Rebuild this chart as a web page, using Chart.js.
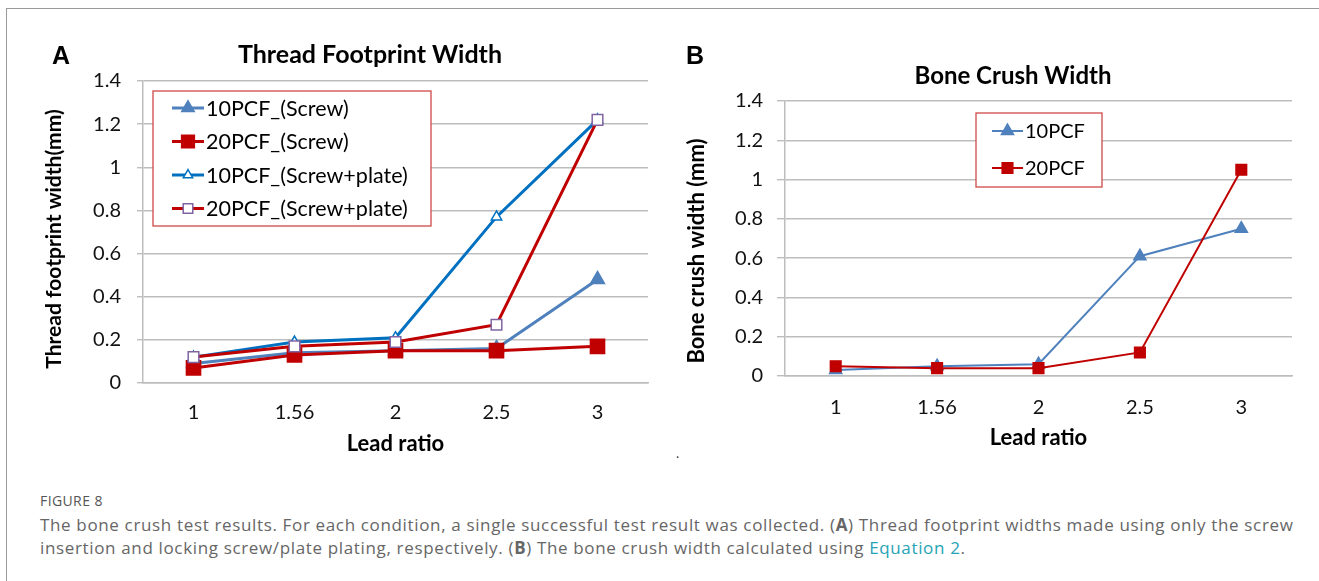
<!DOCTYPE html>
<html>
<head>
<meta charset="utf-8">
<title>Figure 8 - bone crush test</title>
<script src="https://cdn.jsdelivr.net/npm/chart.js"></script>
<style>
  body { margin: 0; background: #fff; width: 1319px; height: 581px; overflow: hidden; position: relative; font-family: Lato, sans-serif; }
  #card { position: absolute; left: 6px; top: 8px; width: 1400px; height: 700px; border-left: 1.5px solid #9a9a9a; border-top: 1.5px solid #9a9a9a; }
  canvas { position: absolute; top: 0; }
  #chartA { left: 0; }
  #chartB { left: 670px; }
  .txt { position: absolute; white-space: nowrap; color: #000; font-weight: bold; }
  #panelA { left: 52px; top: 41px; font: bold 25px Arial, sans-serif; }
  #panelB { left: 686px; top: 41px; font: bold 25px Arial, sans-serif; }
  #titleA { left: 370px; top: 38px; font-size: 25px; transform: translateX(-50%); }
  #titleB { left: 1013px; top: 60px; font-size: 24px; transform: translateX(-50%); }
  #dot { left: 676px; top: 444px; font: 14px Lato, sans-serif; color: #444; }
  #fig { position: absolute; left: 40px; top: 491px; font: 14px "Open Sans", sans-serif; color: #555; letter-spacing: 0.4px; }
  #caption { position: absolute; left: 40px; top: 513px; font: 17px/23px "Open Sans", sans-serif; color: #666; white-space: nowrap; letter-spacing: 0.65px; }
  #caption a { color: #26a3b6; text-decoration: none; }
</style>
</head>
<body>
<div id="card"></div>
<canvas id="chartA" width="670" height="470"></canvas>
<canvas id="chartB" width="640" height="470"></canvas>
<div class="txt" id="panelA">A</div>
<div class="txt" id="panelB">B</div>
<div class="txt" id="titleA">Thread Footprint Width</div>
<div class="txt" id="titleB">Bone Crush Width</div>
<div class="txt" id="dot">.</div>
<div id="fig">FIGURE 8</div>
<div id="caption">The bone crush test results. For each condition, a single successful test result was collected. (<b>A</b>) Thread footprint widths made using only the screw<br>insertion and locking screw/plate plating, respectively. (<b>B</b>) The bone crush width calculated using <a href="#">Equation 2</a>.</div>
<script>
// lead ratios on the x axis
const leadRatios = ['1', '1.56', '2', '2.5', '3'];

// panel A: thread footprint width (mm)
const screw10 = [0.09, 0.14, 0.15, 0.16, 0.48];
const screw20 = [0.07, 0.13, 0.15, 0.15, 0.17];
const plate10 = [0.12, 0.19, 0.21, 0.77, 1.22];
const plate20 = [0.12, 0.17, 0.19, 0.27, 1.22];

// panel B: bone crush width (mm)
const crush10 = [0.03, 0.05, 0.06, 0.61, 0.75];
const crush20 = [0.05, 0.04, 0.04, 0.12, 1.05];

const yMin = 0, yMax = 1.4, yStep = 0.2;

Chart.defaults.font.family = 'Lato, sans-serif';
Chart.defaults.color = '#000';

// legend box drawn inside the plot, like the Excel one
const boxLegend = {
  id: 'boxLegend',
  afterDraw(chart, args, o) {
    const ctx = chart.ctx;
    ctx.save();
    ctx.fillStyle = '#fff';
    ctx.fillRect(o.x, o.y, o.w, o.h);
    ctx.strokeStyle = o.border;
    ctx.lineWidth = 1.3;
    ctx.strokeRect(o.x, o.y, o.w, o.h);
    ctx.font = o.fontSize + 'px Lato, sans-serif';
    ctx.textBaseline = 'middle';
    chart.data.datasets.forEach((ds, i) => {
      const y = o.y + o.first + i * o.gap;
      ctx.strokeStyle = ds.borderColor;
      ctx.lineWidth = ds.borderWidth;
      ctx.beginPath();
      ctx.moveTo(o.lineX0, y);
      ctx.lineTo(o.lineX1, y);
      ctx.stroke();
      ctx.fillStyle = ds.pointBackgroundColor;
      ctx.strokeStyle = ds.pointBorderColor;
      ctx.lineWidth = ds.pointBorderWidth;
      Chart.helpers.drawPoint(ctx, {
        pointStyle: ds.pointStyle, rotation: 0,
        radius: ds.pointRadius * o.markScale, borderWidth: ds.pointBorderWidth
      }, (o.lineX0 + o.lineX1) / 2, y);
      ctx.fillStyle = '#000';
      ctx.fillText(ds.label, o.textX, y + 1);
    });
    ctx.restore();
  }
};

// rotated y axis title, placed where Excel put it
const sideTitle = {
  id: 'sideTitle',
  afterDraw(chart, args, o) {
    const ctx = chart.ctx;
    ctx.save();
    ctx.translate(o.x, o.y);
    ctx.rotate(-Math.PI / 2);
    ctx.font = o.weight + ' ' + o.size + 'px Lato, sans-serif';
    ctx.textAlign = 'center';
    ctx.textBaseline = 'middle';
    ctx.fillStyle = '#000';
    ctx.fillText(o.text, 0, 0);
    ctx.restore();
  }
};

function makeOptions(cfg) {
  return {
    responsive: false,
    animation: false,
    layout: { padding: { top: cfg.top, right: cfg.right, left: 0, bottom: 0 } },
    plugins: {
      legend: { display: false },
      tooltip: { enabled: false },
      boxLegend: cfg.legend,
      sideTitle: cfg.side
    },
    scales: {
      x: {
        type: 'category',
        offset: true,
        grid: { display: false, drawTicks: false },
        border: { display: true, color: '#bdbdbd', width: 1.5 },
        ticks: { padding: cfg.xTickPad, font: { size: 20 }, color: '#111', maxRotation: 0 },
        title: { display: true, text: 'Lead ratio', font: { size: 22, weight: 'bold' }, padding: { bottom: cfg.xTitlePad } },
        afterFit: s => { s.height = cfg.xHeight; }
      },
      y: {
        min: yMin, max: yMax,
        ticks: { stepSize: yStep, padding: cfg.yTickPad, font: { size: 20 }, color: '#111',
                 callback: v => String(+v.toFixed(1)) },
        grid: { color: '#bdbdbd', lineWidth: 1.4, tickLength: cfg.tickLen },
        border: { display: true, color: '#bdbdbd', width: 1.5 },
        afterFit: s => { s.width = cfg.yWidth; }
      }
    }
  };
}

function series(label, data, line, mark, fill, style, r, lw, order) {
  return {
    label, data, order,
    borderColor: line, borderWidth: lw,
    pointStyle: style, pointRadius: r, pointHoverRadius: r,
    pointBackgroundColor: fill, pointBorderColor: mark, pointBorderWidth: 1.5,
    tension: 0, fill: false
  };
}

new Chart(document.getElementById('chartA'), {
  type: 'line',
  data: {
    labels: leadRatios,
    datasets: [
      series('10PCF_(Screw)', screw10, '#4f81bd', '#4f81bd', '#4f81bd', 'triangle', 8, 3, 4),
      series('20PCF_(Screw)', screw20, '#c00000', '#c00000', '#c00000', 'rect', 10, 3, 3),
      series('10PCF_(Screw+plate)', plate10, '#0070c0', '#0070c0', '#ffffff', 'triangle', 6, 3, 2),
      series('20PCF_(Screw+plate)', plate20, '#c00000', '#8064a2', '#ffffff', 'rect', 7.5, 3, 1)
    ]
  },
  options: makeOptions({
    top: 81, right: 22, xHeight: 87, yWidth: 143, tickLen: 6,
    xTickPad: 18, xTitlePad: 13, yTickPad: 16,
    side: { text: 'Thread footprint width(mm)', x: 54, y: 239, size: 21, weight: 'bold' },
    legend: { x: 153, y: 91, w: 278, h: 135, first: 17, gap: 33.5, lineX0: 172, lineX1: 204, textX: 206, fontSize: 21.5, border: '#d04848', markScale: 0.9 }
  }),
  plugins: [boxLegend, sideTitle]
});

new Chart(document.getElementById('chartB'), {
  type: 'line',
  data: {
    labels: leadRatios,
    datasets: [
      series('10PCF', crush10, '#4f81bd', '#4f81bd', '#4f81bd', 'triangle', 7, 2, 2),
      series('20PCF', crush20, '#c00000', '#c00000', '#c00000', 'rect', 7.5, 2, 1)
    ]
  },
  options: makeOptions({
    top: 101, right: 18, xHeight: 94, yWidth: 115, tickLen: 8,
    xTickPad: 20, xTitlePad: 19, yTickPad: 14,
    side: { text: 'Bone crush width (mm)', x: 27, y: 251, size: 22, weight: 'bold' },
    legend: { x: 306, y: 113, w: 126, h: 74, first: 18, gap: 37, lineX0: 322, lineX1: 353, textX: 355, fontSize: 20, border: '#d04848', markScale: 1 }
  }),
  plugins: [boxLegend, sideTitle]
});
</script>
</body>
</html>
